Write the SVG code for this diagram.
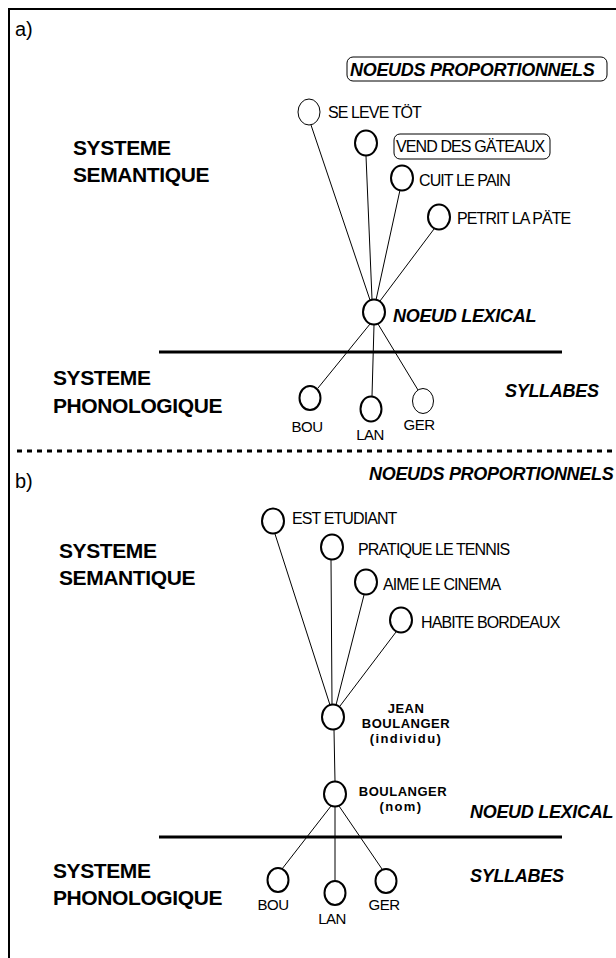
<svg xmlns="http://www.w3.org/2000/svg" width="616" height="958" viewBox="0 0 616 958">
<style>
.bg{fill:#fff}
.frame{stroke:#000;stroke-width:2;fill:none}
.sep{stroke:#000;stroke-width:3}
.dash{stroke:#000;stroke-width:3;stroke-dasharray:5 5}
.n{fill:#fff;stroke:#000;stroke-width:2}
.nt{fill:#fff;stroke:#000;stroke-width:1}
.c line{stroke:#000;stroke-width:1}
.lbl{font-family:"Liberation Sans",Arial,sans-serif;font-size:16px;letter-spacing:-0.9px;fill:#000}
.sys{font-family:"Liberation Sans",Arial,sans-serif;font-size:21px;font-weight:bold;letter-spacing:-0.4px;fill:#000}
.bi{font-family:"Liberation Sans",Arial,sans-serif;font-size:18px;font-weight:bold;font-style:italic;letter-spacing:-0.3px;fill:#000}
.syl{font-family:"Liberation Sans",Arial,sans-serif;font-size:15px;letter-spacing:-0.5px;fill:#000}
.jb{font-family:"Liberation Sans",Arial,sans-serif;font-size:13px;font-weight:bold;letter-spacing:0.5px;fill:#000;text-anchor:middle}
.jp{letter-spacing:1.4px}
.box{fill:none;stroke:#000;stroke-width:1}
.tag{font-family:"Liberation Sans",Arial,sans-serif;font-size:20px;fill:#000}
</style>
<rect class="bg" x="0" y="0" width="616" height="958"/>
<path class="frame" d="M9,958 V9 H616"/>
<text class="tag" x="15" y="36">a)</text>
<text class="tag" x="15" y="488">b)</text>

<g id="labels-a">
<rect class="box" x="347" y="57" width="260" height="24" rx="6"/>
<text class="bi" x="350" y="76">NOEUDS PROPORTIONNELS</text>
<text class="sys" x="73" y="155">SYSTEME</text>
<text class="sys" x="73" y="182">SEMANTIQUE</text>
<text class="sys" x="53" y="385">SYSTEME</text>
<text class="sys" x="53" y="413">PHONOLOGIQUE</text>
<text class="bi" x="505" y="397">SYLLABES</text>
</g>
<line class="sep" x1="159" y1="352" x2="562" y2="352"/>
<line class="dash" x1="17" y1="451" x2="612" y2="451"/>

<g class="c" id="connectors">
<line x1="311" y1="125" x2="370" y2="300"/>
<line x1="366" y1="156" x2="372" y2="299"/>
<line x1="400" y1="190" x2="376" y2="300"/>
<line x1="434" y1="229" x2="380" y2="301"/>
<line x1="370" y1="324" x2="318" y2="388"/>
<line x1="374" y1="325" x2="372" y2="396"/>
<line x1="378" y1="324" x2="418" y2="390"/>
<line x1="275" y1="534" x2="330" y2="705"/>
<line x1="331" y1="560" x2="332" y2="704"/>
<line x1="364" y1="595" x2="336" y2="705"/>
<line x1="396" y1="632" x2="340" y2="706"/>
<line x1="334" y1="730" x2="335" y2="781"/>
<line x1="331" y1="806" x2="282" y2="869"/>
<line x1="335" y1="807" x2="335" y2="880"/>
<line x1="339" y1="806" x2="382" y2="869"/>
</g>

<g id="se-leve-tot"><ellipse class="nt" cx="309" cy="112" rx="11" ry="13"/><text class="lbl" x="328" y="118">SE LEVE TÖT</text></g>
<g id="vend-des-gateaux"><ellipse class="n" cx="366" cy="143" rx="11" ry="12.5"/><rect class="box" x="394" y="134" width="156" height="25" rx="6"/><text class="lbl" x="396" y="152">VEND DES GÄTEAUX</text></g>
<g id="cuit-le-pain"><ellipse class="n" cx="402" cy="178" rx="11" ry="12.5"/><text class="lbl" x="419" y="186">CUIT LE PAIN</text></g>
<g id="petrit-la-pate"><ellipse class="n" cx="439" cy="217" rx="11" ry="12.5"/><text class="lbl" x="457" y="224">PETRIT LA PÄTE</text></g>
<g id="noeud-lexical-a"><ellipse class="n" cx="374" cy="312" rx="11" ry="12.5"/><text class="bi" x="393" y="322">NOEUD LEXICAL</text></g>
<g id="bou-a"><ellipse class="n" cx="310" cy="398" rx="10.5" ry="12"/><text class="syl" x="307" y="432" text-anchor="middle">BOU</text></g>
<g id="lan-a"><ellipse class="n" cx="371" cy="409" rx="10.5" ry="12.5"/><text class="syl" x="370" y="440" text-anchor="middle">LAN</text></g>
<g id="ger-a"><ellipse class="nt" cx="423" cy="401" rx="10.5" ry="12.5"/><text class="syl" x="419" y="430" text-anchor="middle">GER</text></g>

<g id="labels-b">
<text class="bi" x="369" y="480">NOEUDS PROPORTIONNELS</text>
<text class="sys" x="59" y="558">SYSTEME</text>
<text class="sys" x="59" y="585">SEMANTIQUE</text>
<text class="sys" x="53" y="878">SYSTEME</text>
<text class="sys" x="53" y="905">PHONOLOGIQUE</text>
<text class="bi" x="470" y="882">SYLLABES</text>
</g>
<line class="sep" x1="159" y1="837" x2="562" y2="837"/>

<g id="est-etudiant"><ellipse class="n" cx="273" cy="521" rx="11" ry="12.5"/><text class="lbl" x="292" y="524">EST ETUDIANT</text></g>
<g id="pratique-le-tennis"><ellipse class="n" cx="332" cy="547" rx="11" ry="12.5"/><text class="lbl" x="358" y="555">PRATIQUE LE TENNIS</text></g>
<g id="aime-le-cinema"><ellipse class="n" cx="366" cy="582" rx="11" ry="12.5"/><text class="lbl" x="383" y="590">AIME LE CINEMA</text></g>
<g id="habite-bordeaux"><ellipse class="n" cx="401" cy="620" rx="11" ry="12.5"/><text class="lbl" x="421" y="628">HABITE BORDEAUX</text></g>
<g id="jean-boulanger"><ellipse class="n" cx="333" cy="717" rx="11" ry="12.5"/><text class="jb" x="406" y="713">JEAN</text><text class="jb" x="406" y="728">BOULANGER</text><text class="jb jp" x="406" y="743">(individu)</text></g>
<g id="boulanger-nom"><ellipse class="n" cx="335" cy="794" rx="11" ry="12.5"/><text class="jb" x="403" y="796">BOULANGER</text><text class="jb jp" x="401" y="811">(nom)</text><text class="bi" x="470" y="818">NOEUD LEXICAL</text></g>
<g id="bou-b"><ellipse class="n" cx="278" cy="880" rx="10.5" ry="12"/><text class="syl" x="273" y="910" text-anchor="middle">BOU</text></g>
<g id="lan-b"><ellipse class="n" cx="335" cy="893" rx="10.5" ry="12"/><text class="syl" x="332" y="924" text-anchor="middle">LAN</text></g>
<g id="ger-b"><ellipse class="n" cx="386" cy="881" rx="10.5" ry="12"/><text class="syl" x="384" y="910" text-anchor="middle">GER</text></g>
</svg>
